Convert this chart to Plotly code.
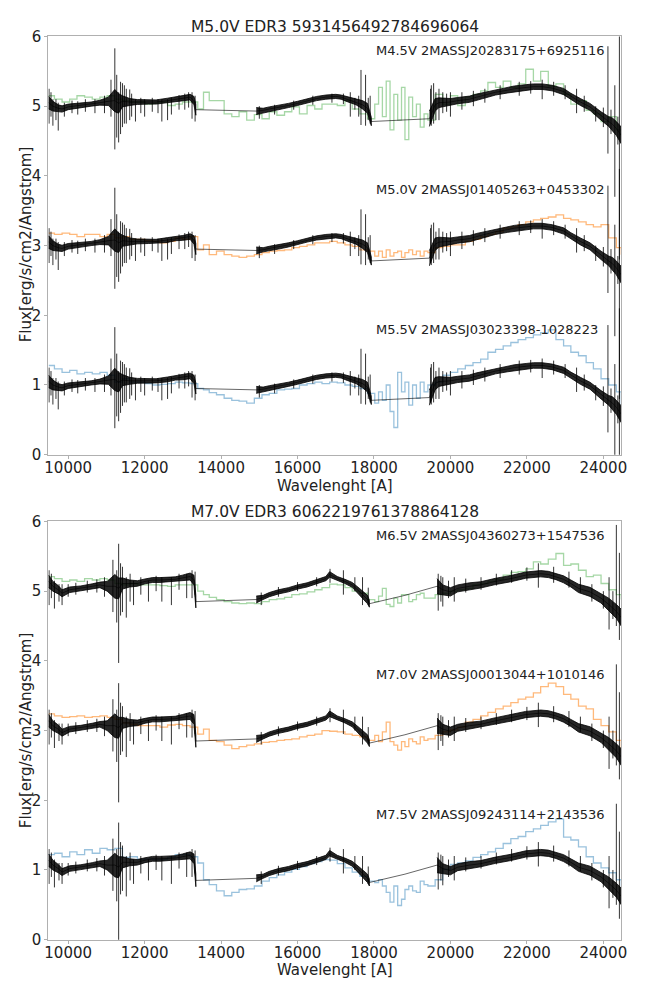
import plotly.graph_objects as go

# ---------------- template spectra (colored, step lines) ----------------
wl_tpl = [9490, 9640, 9840, 10040, 10230, 10430, 10630, 10830, 11020, 11220,
          11420, 11610, 11810, 12010, 12210, 12400, 12600, 12800, 12990, 13190,
          13390, 13540, 13690, 13880, 14080, 14280, 14470, 14670, 14870, 15070,
          15260, 15460, 15660, 15850, 16050, 16250, 16450, 16640, 16840, 17040,
          17240, 17430, 17630, 17830, 18020, 18120, 18220, 18320, 18420, 18520,
          18620, 18720, 18810, 18910, 19010, 19110, 19210, 19310, 19410, 19600,
          19800, 20000, 20190, 20390, 20590, 20790, 20980, 21180, 21380, 21580,
          21770, 21970, 22170, 22360, 22560, 22760, 22960, 23150, 23350, 23550,
          23740, 23940, 24140, 24340, 24470]

green_m45 = [1.15, 1.10, 1.06, 1.10, 1.15, 1.13, 1.10, 1.13, 1.15, 1.10,
             1.08, 1.06, 1.06, 1.03, 1.04, 1.06, 1.01, 1.03, 1.06, 1.06,
             0.96, 1.20, 1.08, 1.08, 0.89, 0.85, 0.92, 0.80, 0.88, 0.82,
             0.92, 0.87, 0.92, 0.99, 0.89, 1.01, 0.96, 1.03, 1.03, 1.01,
             1.08, 0.96, 0.89, 0.82, 1.03, 1.27, 0.85, 1.36, 0.66, 1.17,
             0.80, 1.27, 0.52, 1.13, 0.85, 1.03, 0.70, 0.89, 0.80, 1.17,
             1.03, 1.15, 1.01, 1.13, 1.17, 1.22, 1.34, 1.27, 1.36, 1.27,
             1.32, 1.53, 1.36, 1.50, 1.29, 1.32, 1.17, 1.03, 1.08, 0.94,
             0.89, 0.78, 0.85, 0.66, 0.56]

orange_m50 = [1.18, 1.16, 1.18, 1.16, 1.13, 1.16, 1.16, 1.13, 1.16, 1.11,
              1.13, 1.09, 1.09, 1.07, 1.06, 1.04, 1.06, 1.11, 1.09, 1.13,
              0.94, 1.01, 0.87, 0.92, 0.87, 0.85, 0.83, 0.85, 0.87, 0.90,
              0.92, 0.93, 0.94, 0.97, 0.99, 1.01, 1.04, 1.04, 1.06, 1.04,
              1.01, 0.99, 0.94, 0.92, 0.85, 0.92, 0.83, 0.94, 0.85, 0.90,
              0.92, 0.83, 0.90, 0.94, 0.87, 0.92, 0.85, 0.92, 0.90, 0.97,
              0.99, 1.01, 1.01, 1.06, 1.09, 1.13, 1.16, 1.20, 1.25, 1.27,
              1.30, 1.34, 1.37, 1.39, 1.41, 1.44, 1.39, 1.37, 1.34, 1.30,
              1.27, 1.30, 1.11, 0.97, 0.87]

blue_m55 = [1.28, 1.23, 1.18, 1.21, 1.16, 1.18, 1.16, 1.18, 1.14, 1.04,
            1.09, 1.04, 1.04, 1.02, 1.00, 1.01, 1.02, 1.04, 1.03, 1.02,
            0.95, 0.93, 0.89, 0.86, 0.81, 0.78, 0.77, 0.74, 0.81, 0.86,
            0.88, 0.93, 0.94, 0.95, 1.00, 1.02, 1.04, 1.02, 1.04, 1.03,
            1.00, 0.98, 0.95, 0.88, 0.74, 0.90, 0.78, 1.00, 0.62, 0.39,
            1.18, 0.90, 1.04, 0.71, 1.00, 0.81, 1.04, 0.90, 1.00, 1.04,
            1.14, 1.18, 1.23, 1.28, 1.32, 1.37, 1.47, 1.51, 1.56, 1.61,
            1.65, 1.68, 1.72, 1.75, 1.79, 1.65, 1.56, 1.47, 1.42, 1.32,
            1.23, 1.09, 1.00, 0.90, 0.71]

green_m65 = [1.21, 1.18, 1.14, 1.16, 1.14, 1.18, 1.16, 1.18, 1.16, 1.11,
             1.09, 1.11, 1.09, 1.09, 1.09, 1.08, 1.07, 1.09, 1.09, 1.09,
             1.00, 0.95, 0.91, 0.88, 0.85, 0.83, 0.82, 0.83, 0.82, 0.85,
             0.88, 0.89, 0.91, 0.95, 0.96, 0.99, 1.02, 1.05, 1.10, 1.09,
             1.05, 1.00, 0.97, 0.88, 0.85, 0.93, 1.04, 0.81, 0.78, 0.90,
             0.83, 0.95, 0.95, 0.85, 0.88, 0.95, 0.97, 0.90, 0.90, 0.95,
             0.97, 1.00, 1.02, 1.04, 1.09, 1.11, 1.14, 1.17, 1.23, 1.27,
             1.28, 1.32, 1.42, 1.39, 1.46, 1.54, 1.37, 1.39, 1.30, 1.21,
             1.23, 1.11, 1.02, 0.95, 0.88]

orange_m70 = [1.24, 1.21, 1.19, 1.20, 1.21, 1.19, 1.20, 1.21, 1.19, 1.16,
              1.11, 1.09, 1.07, 1.07, 1.07, 1.05, 1.08, 1.09, 1.07, 1.05,
              0.95, 1.02, 0.86, 0.84, 0.79, 0.74, 0.77, 0.79, 0.81, 0.83,
              0.84, 0.86, 0.87, 0.88, 0.91, 0.93, 0.95, 1.00, 0.99, 0.98,
              0.95, 0.93, 0.91, 0.86, 0.93, 0.84, 0.98, 1.12, 0.84, 0.79,
              0.72, 0.84, 0.77, 0.88, 0.84, 0.81, 0.91, 0.86, 0.88, 0.93,
              0.98, 1.01, 1.05, 1.12, 1.16, 1.21, 1.26, 1.31, 1.35, 1.40,
              1.45, 1.48, 1.54, 1.63, 1.68, 1.63, 1.52, 1.45, 1.35, 1.31,
              1.16, 1.07, 0.98, 0.86, 0.67]

blue_m75 = [1.22, 1.24, 1.19, 1.26, 1.22, 1.29, 1.24, 1.31, 1.29, 1.31,
            1.18, 1.19, 1.15, 1.16, 1.15, 1.15, 1.18, 1.22, 1.22, 1.19,
            1.10, 0.86, 0.79, 0.70, 0.63, 0.68, 0.72, 0.73, 0.77, 0.84,
            0.89, 0.93, 0.97, 1.01, 1.05, 1.09, 1.12, 1.15, 1.14, 1.09,
            1.03, 0.97, 0.91, 0.84, 0.82, 0.86, 0.77, 0.68, 0.54, 0.77,
            0.49, 0.58, 0.72, 0.77, 0.70, 0.68, 0.84, 0.79, 0.77, 0.86,
            1.01, 1.08, 1.10, 1.13, 1.18, 1.22, 1.26, 1.31, 1.38, 1.45,
            1.48, 1.55, 1.59, 1.64, 1.69, 1.73, 1.47, 1.43, 1.33, 1.19,
            1.10, 1.03, 0.96, 0.86, 0.77]

# ---------------- observed spectrum, top panel (EDR3 5931456492784696064) ----------------
top_a_wl = [9490, 9600, 9740, 9840, 10000, 10330, 10600, 10830, 11050, 11220, 11320,
            11420, 11610, 11810, 12100, 12300, 12600, 12800, 13000, 13190, 13290, 13340]
top_a_flux = [1.05, 1.00, 0.97, 0.96, 0.99, 1.01, 1.03, 1.05, 1.07, 1.08, 1.04,
              1.07, 1.06, 1.06, 1.06, 1.06, 1.08, 1.10, 1.11, 1.13, 1.08, 0.95]
top_a_noise = [0.09, 0.07, 0.05, 0.045, 0.04, 0.035, 0.03, 0.035, 0.06, 0.16, 0.14,
               0.08, 0.05, 0.035, 0.03, 0.03, 0.035, 0.03, 0.035, 0.04, 0.06, 0.08]
top_b_wl = [14920, 15100, 15260, 15500, 15760, 16000, 16250, 16500, 16740, 17000,
            17140, 17300, 17530, 17700, 17830, 17930]
top_b_flux = [0.93, 0.94, 0.96, 0.98, 1.01, 1.04, 1.08, 1.11, 1.13, 1.14,
              1.13, 1.10, 1.06, 1.02, 0.97, 0.78]
top_b_noise = [0.05, 0.03, 0.03, 0.03, 0.03, 0.03, 0.03, 0.03, 0.03, 0.03,
               0.03, 0.035, 0.04, 0.06, 0.07, 0.06]
top_c_wl = [19450, 19600, 19700, 20000, 20190, 20500, 20690, 21000, 21180, 21500,
            21670, 22000, 22170, 22400, 22660, 22960, 23150, 23400, 23650, 23940,
            24140, 24240, 24340, 24470]
top_c_flux = [0.82, 1.02, 1.05, 1.06, 1.08, 1.10, 1.13, 1.17, 1.20, 1.23,
              1.25, 1.27, 1.28, 1.28, 1.26, 1.21, 1.14, 1.06, 0.99, 0.86,
              0.78, 0.74, 0.68, 0.58]
top_c_noise = [0.11, 0.09, 0.07, 0.05, 0.045, 0.045, 0.045, 0.04, 0.04, 0.04,
               0.04, 0.04, 0.04, 0.04, 0.04, 0.045, 0.045, 0.05, 0.05, 0.06,
               0.07, 0.09, 0.10, 0.12]
top_spike_wl = [9500, 9550, 9600, 9680, 9740, 9900, 10100, 10250, 10450, 10700,
                10950, 11120, 11220, 11270, 11320, 11370, 11420, 11470, 11520, 11610,
                11660, 11760, 11900, 12000, 12200, 12350, 12450, 12600, 12700, 12900,
                13050, 13150, 13240, 13320,
                15000, 15400, 15900, 16400, 16900, 17200, 17380, 17500, 17600, 17660,
                17780, 17850, 17900,
                19480, 19500, 19560, 19620, 19700, 19800, 19900, 20000, 20300, 20600,
                20900, 21300, 21800, 22100, 22400, 22700, 23000, 23300, 23500, 23800,
                24000, 24120, 24200, 24300, 24380, 24420]
top_spike_lo = [0.75, 0.85, 0.72, 0.80, 0.65, 0.85, 0.90, 0.88, 0.92, 0.90,
                0.90, 0.85, 0.38, 0.55, 0.48, 0.60, 0.70, 0.75, 0.75, 0.80,
                0.85, 0.78, 0.90, 0.85, 0.92, 0.90, 0.78, 0.80, 0.88, 0.95,
                0.95, 0.98, 0.82, 0.78,
                0.82, 0.88, 0.95, 1.02, 1.05, 1.03, 0.85, 0.95, 0.85, 0.73,
                0.72, 0.80, 0.75,
                0.75, 0.72, 0.75, 0.80, 0.80, 0.90, 0.92, 0.85, 0.95, 1.00,
                1.05, 1.10, 1.15, 1.18, 1.10, 1.15, 1.10, 0.90, 0.92, 0.78,
                0.70, 0.32, 0.60, -0.30, 0.45, -1.20]
top_spike_hi = [1.25, 1.20, 1.10, 1.10, 1.05, 1.05, 1.08, 1.07, 1.10, 1.10,
                1.15, 1.38, 1.83, 1.45, 1.20, 1.35, 1.33, 1.30, 1.25, 1.24,
                1.18, 1.10, 1.12, 1.10, 1.12, 1.10, 1.10, 1.10, 1.12, 1.16,
                1.18, 1.20, 1.20, 1.15,
                1.00, 1.02, 1.08, 1.15, 1.18, 1.18, 1.20, 1.12, 1.15, 1.52,
                1.45, 1.12, 1.15,
                1.25, 1.30, 1.33, 1.20, 1.25, 1.20, 1.18, 1.20, 1.20, 1.22,
                1.25, 1.30, 1.35, 1.36, 1.38, 1.35, 1.30, 1.25, 1.15, 1.00,
                0.98, 1.86, 0.95, 1.30, 0.85, 2.10]

# ---------------- observed spectrum, bottom panel (EDR3 6062219761378864128) ----------------
bot_a_wl = [9490, 9600, 9740, 9840, 10040, 10330, 10630, 10830, 11020, 11220, 11320,
            11420, 11610, 11810, 12010, 12210, 12400, 12600, 12800, 12990, 13190, 13290, 13340]
bot_a_flux = [1.14, 1.07, 1.02, 0.97, 1.02, 1.04, 1.07, 1.09, 1.07, 1.07, 1.04,
              1.11, 1.11, 1.11, 1.14, 1.16, 1.16, 1.16, 1.17, 1.19, 1.21, 1.16, 0.85]
bot_a_noise = [0.09, 0.07, 0.06, 0.05, 0.04, 0.035, 0.035, 0.04, 0.07, 0.17, 0.15,
               0.08, 0.05, 0.04, 0.035, 0.035, 0.035, 0.035, 0.035, 0.04, 0.05, 0.07, 0.09]
bot_b_wl = [14920, 15100, 15260, 15500, 15760, 16000, 16250, 16500, 16740, 16840,
            16940, 17040, 17240, 17430, 17630, 17830, 17880]
bot_b_flux = [0.88, 0.91, 0.95, 0.99, 1.02, 1.06, 1.09, 1.14, 1.18, 1.24,
              1.21, 1.18, 1.14, 1.09, 0.99, 0.88, 0.82]
bot_b_noise = [0.05, 0.03, 0.03, 0.03, 0.03, 0.03, 0.03, 0.03, 0.03, 0.04,
               0.03, 0.03, 0.03, 0.035, 0.045, 0.06, 0.05]
bot_gap_wl = [18520, 18810]
bot_gap_flux = [0.90, 0.94]
bot_c_wl = [19650, 19800, 20000, 20190, 20500, 20790, 21180, 21580, 21970, 22360,
            22560, 22760, 22960, 23150, 23350, 23650, 23940, 24140, 24340, 24470]
bot_c_flux = [1.07, 1.02, 0.99, 1.04, 1.07, 1.09, 1.14, 1.18, 1.23, 1.25,
              1.24, 1.21, 1.17, 1.11, 1.04, 0.99, 0.90, 0.81, 0.71, 0.62]
bot_c_noise = [0.11, 0.07, 0.06, 0.05, 0.05, 0.045, 0.045, 0.045, 0.045, 0.045,
               0.045, 0.045, 0.05, 0.05, 0.06, 0.065, 0.07, 0.09, 0.10, 0.12]
bot_spike_wl = [9500, 9560, 9640, 9760, 9840, 10000, 10200, 10500, 10750, 10950,
                11170, 11270, 11320, 11370, 11420, 11520, 11620, 11710, 11900, 12100,
                12300, 12450, 12700, 12900, 13100, 13240, 13320,
                15050, 15500, 16000, 16500, 16850, 17200, 17500, 17700, 17850,
                19680, 19750, 19800, 19950, 20100, 20400, 20800, 21200, 21600, 22000,
                22300, 22700, 23100, 23400, 23700, 24000, 24150, 24250, 24340, 24420]
bot_spike_lo = [0.80, 0.90, 0.75, 0.85, 0.80, 0.92, 0.95, 0.98, 0.98, 0.92,
                0.70, 0.55, -0.03, 0.65, 0.70, 0.62, 0.85, 0.80, 0.95, 0.85,
                1.00, 0.85, 0.80, 1.02, 0.90, 0.90, 0.95,
                0.80, 0.92, 1.00, 1.07, 1.12, 0.95, 1.00, 0.80, 0.80,
                0.72, 0.85, 0.78, 0.90, 0.85, 0.98, 1.02, 1.08, 1.12, 1.15,
                1.05, 1.12, 1.05, 0.98, 0.85, 0.75, 0.45, 0.60, 0.50, 0.30]
bot_spike_hi = [1.30, 1.25, 1.15, 1.10, 1.10, 1.10, 1.12, 1.15, 1.17, 1.20,
                1.45, 1.30, 1.68, 1.40, 1.35, 1.20, 1.25, 1.15, 1.20, 1.15,
                1.22, 1.20, 1.20, 1.25, 1.25, 1.30, 1.28,
                0.98, 1.06, 1.13, 1.20, 1.32, 1.30, 1.20, 1.20, 1.05,
                1.25, 1.22, 1.20, 1.15, 1.20, 1.18, 1.20, 1.25, 1.30, 1.34,
                1.40, 1.35, 1.28, 1.20, 1.10, 1.00, 1.20, 1.00, 1.95, 1.55]

# ---------------- labels ----------------
panel_titles = ["M5.0V EDR3 5931456492784696064", "M7.0V EDR3 6062219761378864128"]
top_labels = ["M4.5V 2MASSJ20283175+6925116", "M5.0V 2MASSJ01405263+0453302",
              "M5.5V 2MASSJ03023398-1028223"]
bot_labels = ["M6.5V 2MASSJ04360273+1547536", "M7.0V 2MASSJ00013044+1010146",
              "M7.5V 2MASSJ09243114+2143536"]
offsets = [4, 2, 0]
label_x = 18000
label_dy = 1.8
x_ticks = [10000, 12000, 14000, 16000, 18000, 20000, 22000, 24000]
x_ticktext = ["10000", "12000", "14000", "16000", "18000", "20000", "22000", "24000"]
y_ticks = [0, 1, 2, 3, 4, 5, 6]
y_ticktext = ["0", "1", "2", "3", "4", "5", "6"]
x_title = "Wavelenght [A]"
y_title = "Flux[erg/s/cm2/Angstrom]"

tpl_colors = ["rgba(44,160,44,0.42)", "rgba(255,127,14,0.55)", "rgba(31,119,180,0.45)"]
FONT = "DejaVu Sans"

fig = go.Figure()

panels = [
    dict(xa="x", ya="y", tpls=[green_m45, orange_m50, blue_m55], labels=top_labels,
         segs=[(top_a_wl, top_a_flux, top_a_noise), (top_b_wl, top_b_flux, top_b_noise),
               (top_c_wl, top_c_flux, top_c_noise)],
         gaps=[[], []],
         spikes=(top_spike_wl, top_spike_lo, top_spike_hi)),
    dict(xa="x2", ya="y2", tpls=[green_m65, orange_m70, blue_m75], labels=bot_labels,
         segs=[(bot_a_wl, bot_a_flux, bot_a_noise), (bot_b_wl, bot_b_flux, bot_b_noise),
               (bot_c_wl, bot_c_flux, bot_c_noise)],
         gaps=[[], list(zip(bot_gap_wl, bot_gap_flux))],
         spikes=(bot_spike_wl, bot_spike_lo, bot_spike_hi)),
]

for p in panels:
    xa, ya = p["xa"], p["ya"]
    for k, off in enumerate(offsets):
        fig.add_trace(go.Scatter(
            x=wl_tpl, y=[v + off for v in p["tpls"][k]], mode="lines",
            line=dict(shape="hv", color=tpl_colors[k], width=1.3),
            xaxis=xa, yaxis=ya, hoverinfo="skip", showlegend=False))
    for k, off in enumerate(offsets):
        lx, ly = [], []
        for si, (w, f, n) in enumerate(p["segs"]):
            lx += w
            ly += [v + off for v in f]
            if si < len(p["gaps"]):
                for gw, gf in p["gaps"][si]:
                    lx.append(gw)
                    ly.append(gf + off)
        fig.add_trace(go.Scatter(
            x=lx, y=ly, mode="lines", line=dict(color="rgba(0,0,0,0.6)", width=1),
            xaxis=xa, yaxis=ya, hoverinfo="skip", showlegend=False))
        for (w, f, n) in p["segs"]:
            up = [v + e + off for v, e in zip(f, n)]
            lo = [v - e + off for v, e in zip(f, n)]
            fig.add_trace(go.Scatter(
                x=w + w[::-1], y=up + lo[::-1], mode="lines", fill="toself",
                fillcolor="rgba(0,0,0,0.85)", line=dict(color="black", width=0.8),
                xaxis=xa, yaxis=ya, hoverinfo="skip", showlegend=False))
        sw, slo, shi = p["spikes"]
        sx, sy = [], []
        for w, a, b in zip(sw, slo, shi):
            sx += [w, w, None]
            sy += [a + off, b + off, None]
        fig.add_trace(go.Scatter(
            x=sx, y=sy, mode="lines", line=dict(color="rgba(0,0,0,0.8)", width=1),
            xaxis=xa, yaxis=ya, hoverinfo="skip", showlegend=False))
        fig.add_annotation(x=label_x, y=off + label_dy, xref=xa, yref=ya, text=p["labels"][k],
                           showarrow=False, xanchor="left", yanchor="middle",
                           font=dict(family=FONT, size=13, color="#222"))

W, H = 647, 985
xdom = [45 / W, 627 / W]
ax_common = dict(showline=True, linecolor="#b0b0b0", linewidth=1, mirror=True,
                 ticks="outside", ticklen=3, tickcolor="#b0b0b0", showgrid=False,
                 zeroline=False, tickfont=dict(family=FONT, size=15, color="#222"))
fig.update_layout(
    width=W, height=H, margin=dict(l=0, r=0, t=0, b=0),
    plot_bgcolor="white", paper_bgcolor="white", showlegend=False,
    xaxis=dict(domain=xdom, range=[9480, 24470], tickvals=x_ticks, ticktext=x_ticktext,
               anchor="y", ticklabelstandoff=-4, **ax_common),
    yaxis=dict(domain=[1 - 454 / H, 1 - 28 / H], range=[0, 6], tickvals=y_ticks,
               ticktext=y_ticktext, anchor="x", **ax_common),
    xaxis2=dict(domain=xdom, range=[9480, 24470], tickvals=x_ticks, ticktext=x_ticktext,
                anchor="y2", ticklabelstandoff=-4, **ax_common),
    yaxis2=dict(domain=[1 - 948 / H, 1 - 522 / H], range=[0, 6], tickvals=y_ticks,
                ticktext=y_ticktext, anchor="x2", **ax_common),
)

xc = (xdom[0] + xdom[1]) / 2
for title, ty, xty, yty in [(panel_titles[0], 18, 486, 240), (panel_titles[1], 512, 979, 735)]:
    fig.add_annotation(x=xc, y=1 - ty / H, xref="paper", yref="paper", text=title, showarrow=False,
                       xanchor="center", yanchor="middle", font=dict(family=FONT, size=15.5, color="#222"))
    fig.add_annotation(x=xc, y=1 - xty / H, xref="paper", yref="paper", text=x_title, showarrow=False,
                       xanchor="center", yanchor="middle", font=dict(family=FONT, size=15, color="#222"))
    fig.add_annotation(x=22 / W, y=1 - yty / H, xref="paper", yref="paper", text=y_title, showarrow=False,
                       textangle=-90, xanchor="center", yanchor="middle",
                       font=dict(family=FONT, size=15, color="#222"))

fig.write_html("out.html")
